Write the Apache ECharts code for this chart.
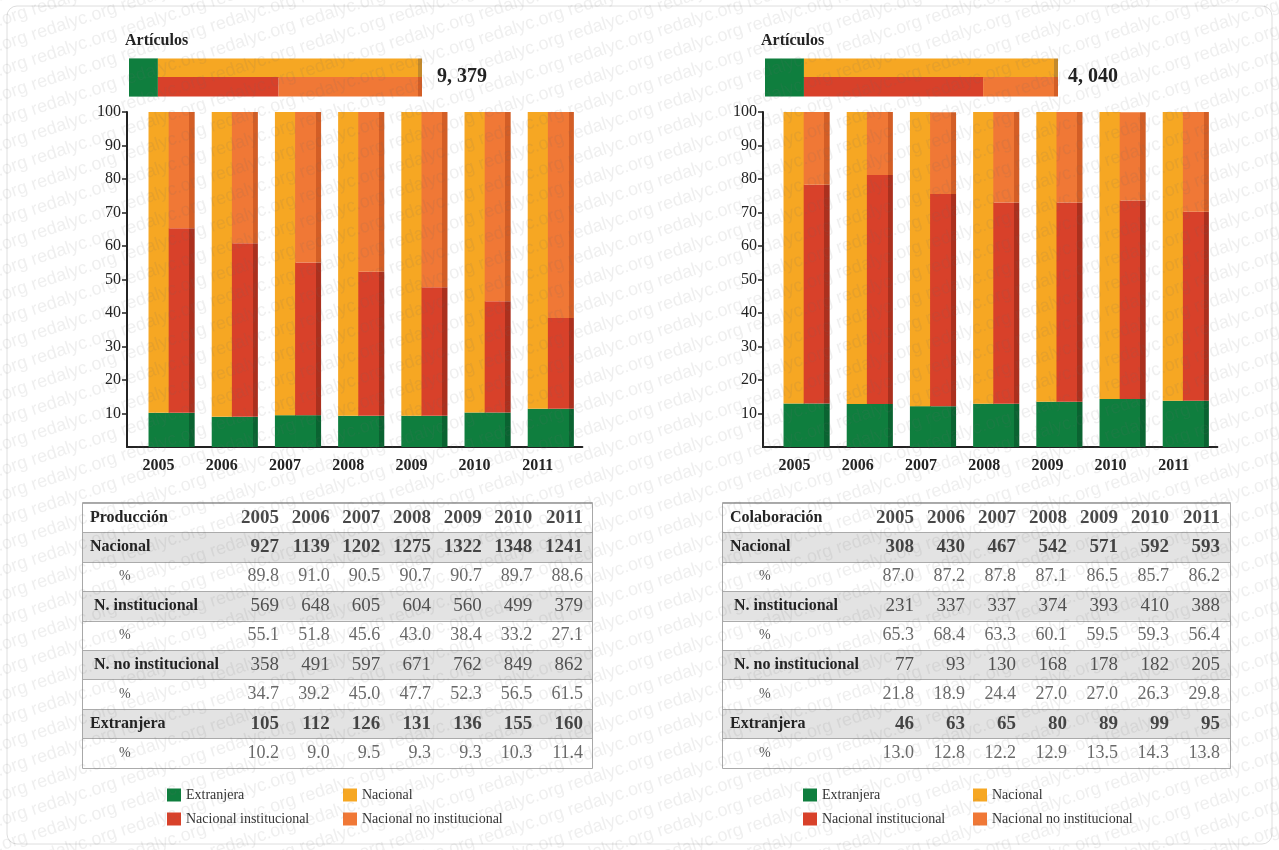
<!DOCTYPE html>
<html>
<head>
<meta charset="utf-8">
<title>Producción y colaboración 2005-2011</title>
<script src="https://cdn.jsdelivr.net/npm/echarts@6/dist/echarts.min.js"></script>
<style>
  html, body { margin: 0; padding: 0; background: #fff; }
  #main { width: 1279px; height: 850px; }
</style>
</head>
<body>
<div id="main"></div>
<script>
// años (categorías)
var years = ['2005', '2006', '2007', '2008', '2009', '2010', '2011'];

// Producción
var prodNacional = [927, 1139, 1202, 1275, 1322, 1348, 1241];
var prodNacionalPct = [89.8, 91.0, 90.5, 90.7, 90.7, 89.7, 88.6];
var prodInst = [569, 648, 605, 604, 560, 499, 379];
var prodInstPct = [55.1, 51.8, 45.6, 43.0, 38.4, 33.2, 27.1];
var prodNoInst = [358, 491, 597, 671, 762, 849, 862];
var prodNoInstPct = [34.7, 39.2, 45.0, 47.7, 52.3, 56.5, 61.5];
var prodExtranjera = [105, 112, 126, 131, 136, 155, 160];
var prodExtranjeraPct = [10.2, 9.0, 9.5, 9.3, 9.3, 10.3, 11.4];

// Colaboración
var colNacional = [308, 430, 467, 542, 571, 592, 593];
var colNacionalPct = [87.0, 87.2, 87.8, 87.1, 86.5, 85.7, 86.2];
var colInst = [231, 337, 337, 374, 393, 410, 388];
var colInstPct = [65.3, 68.4, 63.3, 60.1, 59.5, 59.3, 56.4];
var colNoInst = [77, 93, 130, 168, 178, 182, 205];
var colNoInstPct = [21.8, 18.9, 24.4, 27.0, 27.0, 26.3, 29.8];
var colExtranjera = [46, 63, 65, 80, 89, 99, 95];
var colExtranjeraPct = [13.0, 12.8, 12.2, 12.9, 13.5, 14.3, 13.8];

// filas de la tabla y eje de porcentaje
var rowLabels = ['Nacional', '%', 'N. institucional', '%', 'N. no institucional', '%', 'Extranjera', '%'];
var pctMin = 0, pctMax = 100, pctStep = 10;

var N = { ext: 'Extranjera', nac: 'Nacional', inst: 'Nacional institucional', noInst: 'Nacional no institucional' };
var C = { ext: '#0f7e3e', nac: '#f6a723', inst: '#d8412a', noInst: '#f07836' };
var D = { ext: '#0a6331', nac: '#c48a2c', inst: '#ab301e', noInst: '#d35e26' };
var SERIF = '"Liberation Serif", "DejaVu Serif", serif';

var panels = [
  { name: 'Producción', nac: prodNacional, nacPct: prodNacionalPct, inst: prodInst, instPct: prodInstPct,
    noInst: prodNoInst, noInstPct: prodNoInstPct, ext: prodExtranjera, extPct: prodExtranjeraPct,
    topLeft: 129, totalLeft: 437, axisLeft: 127, barShift: 13,
    tableLeft: 83, tableWidth: 509, numRight0: 279, numRight6: 583, legendLeft: [167, 343] },
  { name: 'Colaboración', nac: colNacional, nacPct: colNacionalPct, inst: colInst, instPct: colInstPct,
    noInst: colNoInst, noInstPct: colNoInstPct, ext: colExtranjera, extPct: colExtranjeraPct,
    topLeft: 765, totalLeft: 1068, axisLeft: 763, barShift: 12,
    tableLeft: 723, tableWidth: 507, numRight0: 914, numRight6: 1220, legendLeft: [803, 973] }
];

function sum(a) { return a.reduce(function (s, v) { return s + v; }, 0); }
function fmtTotal(n) { return Math.floor(n / 1000) + ', ' + String(n % 1000).padStart(3, '0'); }
// franja oscura a la derecha (efecto 3D)
function edge(c, d, at) {
  return new echarts.graphic.LinearGradient(0, 0, 1, 0, [
    { offset: 0, color: c }, { offset: at, color: c }, { offset: at, color: d }, { offset: 1, color: d }
  ]);
}

var titles = [], grids = [], xAxes = [], yAxes = [], series = [], legends = [], graphic = [];

panels.forEach(function (p, k) {
  var extT = sum(p.ext), nacT = sum(p.nac), instT = sum(p.inst), noInstT = sum(p.noInst);
  var total = extT + nacT;
  var topW = 293;

  titles.push({ text: 'Artículos', left: p.topLeft - 4, top: 33, padding: 0,
    textStyle: { fontFamily: SERIF, fontSize: 16, fontWeight: 'bold', color: '#222' } });
  titles.push({ text: fmtTotal(total), left: p.totalLeft, top: 67, padding: 0,
    textStyle: { fontFamily: SERIF, fontSize: 20, fontWeight: 'bold', color: '#222' } });

  // barra superior de artículos (primera pila arriba)
  grids.push({ left: p.topLeft, top: 58, width: topW, height: 39 });
  var g = grids.length - 1;
  xAxes.push({ gridIndex: g, type: 'value', min: 0, max: total, show: false });
  yAxes.push({ gridIndex: g, type: 'category', data: ['Artículos'], show: false });
  var tb = { type: 'bar', xAxisIndex: xAxes.length - 1, yAxisIndex: yAxes.length - 1, barWidth: 19.5, barGap: '-4%', silent: true };
  series.push(Object.assign({}, tb, { name: N.ext, stack: 'tt' + k, data: [extT], itemStyle: { color: C.ext } }));
  series.push(Object.assign({}, tb, { name: N.nac, stack: 'tt' + k, data: [nacT],
    itemStyle: { color: edge(C.nac, D.nac, 1 - 4 / (topW * nacT / total)) } }));
  series.push(Object.assign({}, tb, { name: N.ext, stack: 'tb' + k, data: [extT], itemStyle: { color: C.ext } }));
  series.push(Object.assign({}, tb, { name: N.inst, stack: 'tb' + k, data: [instT], itemStyle: { color: C.inst } }));
  series.push(Object.assign({}, tb, { name: N.noInst, stack: 'tb' + k, data: [noInstT],
    itemStyle: { color: edge(C.noInst, D.noInst, 1 - 4 / (topW * noInstT / total)) } }));

  // ejes visibles del grafico de barras
  grids.push({ left: p.axisLeft, top: 112, width: 442.4, height: 335 });
  g = grids.length - 1;
  xAxes.push({ gridIndex: g, type: 'category', data: years,
    axisLine: { lineStyle: { color: '#222', width: 2 } },
    axisTick: { alignWithLabel: true, length: 5, lineStyle: { color: '#222', width: 1.5 } },
    axisLabel: { fontFamily: SERIF, fontSize: 16, fontWeight: 'bold', color: '#222', margin: 11 } });
  yAxes.push({ gridIndex: g, type: 'value', min: pctMin, max: pctMax, interval: pctStep,
    axisLine: { show: true, lineStyle: { color: '#222', width: 2 } },
    axisTick: { show: true, length: 5, lineStyle: { color: '#222', width: 1.5 } },
    axisLabel: { showMinLabel: false, fontFamily: SERIF, fontSize: 16, color: '#222', margin: 6 },
    splitLine: { show: false } });

  // barras (desplazadas a la derecha de las marcas)
  grids.push({ left: p.axisLeft + p.barShift, top: 112, width: 442.4, height: 335 });
  g = grids.length - 1;
  xAxes.push({ gridIndex: g, type: 'category', data: years,
    axisLine: { show: true, lineStyle: { color: '#222', width: 2 } }, axisTick: { show: false }, axisLabel: { show: false } });
  yAxes.push({ gridIndex: g, type: 'value', min: pctMin, max: pctMax, show: false });
  var bb = { type: 'bar', xAxisIndex: xAxes.length - 1, yAxisIndex: yAxes.length - 1, barGap: '-4%', silent: true };
  series.push(Object.assign({}, bb, { name: N.ext, stack: 'L' + k, barWidth: 21, data: p.extPct, itemStyle: { color: C.ext } }));
  series.push(Object.assign({}, bb, { name: N.nac, stack: 'L' + k, barWidth: 21, data: p.nacPct, itemStyle: { color: C.nac } }));
  series.push(Object.assign({}, bb, { name: N.ext, stack: 'R' + k, barWidth: 26, data: p.extPct, itemStyle: { color: edge(C.ext, D.ext, 0.8) } }));
  series.push(Object.assign({}, bb, { name: N.inst, stack: 'R' + k, barWidth: 26, data: p.instPct, itemStyle: { color: edge(C.inst, D.inst, 0.8) } }));
  series.push(Object.assign({}, bb, { name: N.noInst, stack: 'R' + k, barWidth: 26, data: p.noInstPct, itemStyle: { color: edge(C.noInst, D.noInst, 0.8) } }));

  // tabla
  var unit = (p.numRight6 - p.numRight0) / 6;
  var xmin = 1 - (p.numRight0 - p.tableLeft) / unit;
  grids.push({ left: p.tableLeft, top: 503, width: p.tableWidth, height: 265, show: true,
    borderColor: '#8c8c8c', borderWidth: 1.5, backgroundColor: 'transparent' });
  g = grids.length - 1;
  xAxes.push({ gridIndex: g, type: 'value', min: xmin, max: xmin + p.tableWidth / unit, show: false });
  var rowStyle = ['lb', 'lb', 'lp', 'li', 'lp', 'li', 'lp', 'lb', 'lp'];
  yAxes.push({ gridIndex: g, type: 'category', inverse: true, data: [p.name].concat(rowLabels),
    axisLine: { show: false }, axisTick: { show: false },
    axisLabel: { inside: true, margin: 7, interval: 0,
      formatter: function (v, i) { return '{' + rowStyle[i] + '|' + v + '}'; },
      rich: {
        lb: { fontFamily: SERIF, fontSize: 16, fontWeight: 'bold', color: '#222' },
        li: { fontFamily: SERIF, fontSize: 16, fontWeight: 'bold', color: '#222', padding: [0, 0, 0, 4] },
        lp: { fontFamily: SERIF, fontSize: 14, color: '#555', padding: [0, 0, 0, 29] }
      } },
    splitArea: { show: true, areaStyle: { color: ['#ffffff', '#e3e3e3'] } },
    splitLine: { show: true, lineStyle: { color: '#ababab', width: 1 } } });

  var rows = [years, p.nac, p.nacPct, p.inst, p.instPct, p.noInst, p.noInstPct, p.ext, p.extPct];
  var cellStyle = ['b', 'b', 'p', 'n', 'p', 'n', 'p', 'b', 'p'];
  var cells = [];
  rows.forEach(function (row, r) {
    row.forEach(function (v, c) {
      var txt = cellStyle[r] === 'p' ? v.toFixed(1) : String(v);
      cells.push({ value: [c + 1, r], txt: txt, sty: cellStyle[r] });
    });
  });
  series.push({ type: 'scatter', xAxisIndex: xAxes.length - 1, yAxisIndex: yAxes.length - 1,
    symbolSize: 1, itemStyle: { color: 'transparent' }, silent: true, data: cells,
    label: { show: true, position: 'inside', align: 'right', verticalAlign: 'middle',
      formatter: function (pr) { return '{' + pr.data.sty + '|' + pr.data.txt + '}'; },
      rich: {
        b: { fontFamily: SERIF, fontSize: 19, fontWeight: 'bold', color: '#1a1a1a' },
        n: { fontFamily: SERIF, fontSize: 19, color: '#2a2a2a' },
        p: { fontFamily: SERIF, fontSize: 18, color: '#444' }
      } } });

  // leyenda 2 x 2
  var items = [[N.ext, C.ext, 0, 788], [N.nac, C.nac, 1, 788], [N.inst, C.inst, 0, 812], [N.noInst, C.noInst, 1, 812]];
  items.forEach(function (it) {
    legends.push({ data: [{ name: it[0], itemStyle: { color: it[1] } }], left: p.legendLeft[it[2]], top: it[3],
      icon: 'rect', itemWidth: 14, itemHeight: 13, itemGap: 0, padding: 0, selectedMode: false,
      textStyle: { fontFamily: SERIF, fontSize: 14, color: '#333' } });
  });
});

// marco y marca de agua
graphic.push({ type: 'rect', silent: true, z: -10, shape: { x: 7, y: 6, width: 1265, height: 838, r: 10 },
  style: { fill: 'none', stroke: '#dedede', lineWidth: 1 } });
var wm = new Array(18).join('redalyc.org ');
for (var i = 0; i < 56; i++) {
  graphic.push({ type: 'text', silent: true, z: 50, x: -150, y: 10 + i * 25, rotation: 18 * Math.PI / 180,
    style: { text: wm, fill: 'rgba(110,110,110,0.11)', font: '18px "Liberation Sans", sans-serif' } });
}

var chart = echarts.init(document.getElementById('main'), null, { renderer: 'canvas' });
chart.setOption({
  animation: false,
  backgroundColor: '#fff',
  title: titles,
  grid: grids,
  xAxis: xAxes,
  yAxis: yAxes,
  legend: legends,
  series: series,
  graphic: graphic
});
</script>
</body>
</html>
